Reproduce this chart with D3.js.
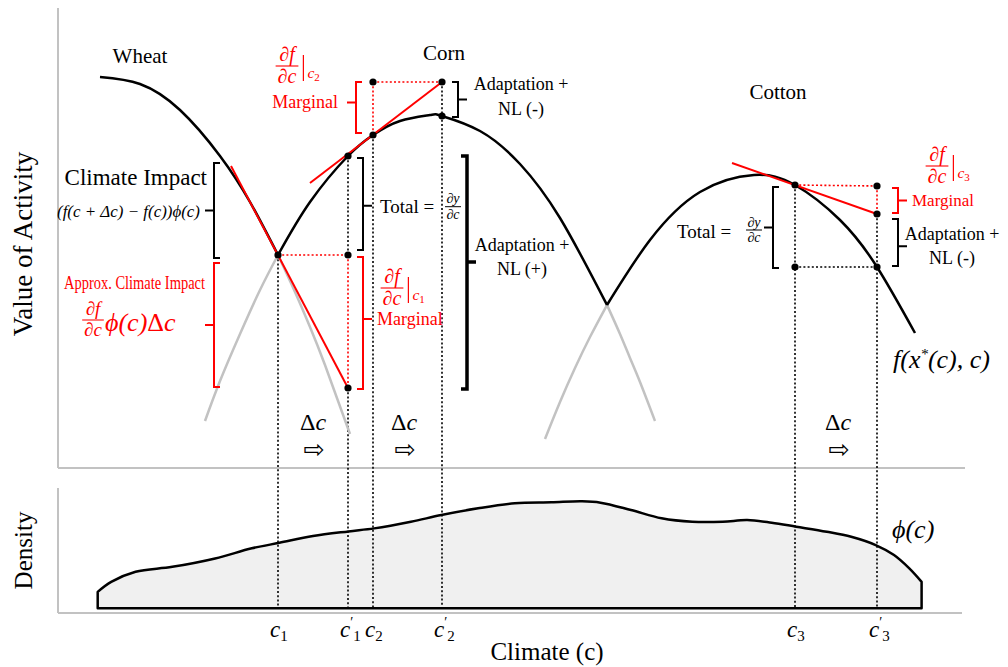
<!DOCTYPE html>
<meta charset="utf-8">
<title>Climate, adaptation and value of activity</title>
<style>
body { margin: 0; background: #fff; }
text { font-family: "Liberation Serif", "Times New Roman", serif; }
</style>
<body>
<script src="https://cdnjs.cloudflare.com/ajax/libs/d3/7.8.5/d3.min.js"></script>
<script>
var W = 1008, H = 667;
var RED = "#ff0000", GREY = "#c2c2c2";

// crop value curves, [climate c, value of activity]
var wheatBlack = [[4.2,39.1],[8.2,38.4],[12.2,35.8],[16.2,31.2],[19.2,26.6],[22.0,21.3]];
var wheatGrey = [[22.0,21.3],[23.7,17.6],[25.2,14.1],[26.7,10.3],[29.2,3.4]];
var cornGreyLeft = [[14.7,4.7],[16.2,8.7],[18.2,13.4],[20.2,17.8],[22.0,21.3]];
var cornBlack = [[22.0,21.3],[25.2,26.6],[29.0,31.2],[31.5,33.3],[34.2,34.7],[37.2,35.3],[38.4,35.2],[42.2,33.7],[46.2,30.4],[50.2,25.0],[54.9,16.3]];
var cornGreyRight = [[54.9,16.3],[56.2,13.4],[57.2,11.0],[58.2,8.6],[59.7,4.7]];
var cottonGrey = [[48.7,2.9],[50.2,6.6],[51.7,10.0],[53.2,13.1],[54.9,16.3]];
var cottonBlack = [[54.9,16.3],[59.2,22.8],[64.2,27.6],[69.6,29.3],[73.7,28.3],[78.2,24.8],[81.9,20.1],[85.7,13.5]];

// climate density phi(c), [c, density]
var density = [[3.97,0.136],[5.32,0.219],[7.76,0.303],[11.43,0.344],[15.71,0.414],[19.38,0.498],[22.14,0.544],[25.5,0.600],[29.05,0.639],[31.62,0.664],[35.29,0.719],[38.34,0.775],[42.01,0.831],[45.68,0.873],[49.35,0.881],[52.41,0.889],[54.25,0.878],[57.3,0.817],[60.36,0.748],[63.42,0.719],[66.48,0.719],[68.92,0.733],[71.37,0.711],[73.82,0.678],[76.88,0.636],[79.32,0.594],[81.77,0.525],[83.6,0.442],[85.13,0.331],[86.36,0.219]];

// climate points on the axis
var cTicks = [22.0, 29.0, 31.5, 38.4, 73.7, 81.9];
var cSubs = ["1", "1", "2", "2", "3", "3"];
var cPrime = [false, true, false, true, false, true];

// tangent (marginal) lines
var tangents = [[[17.3,30.2],[29.0,8.0]], [[25.2,28.5],[38.4,38.6]], [[67.4,30.5],[81.9,25.4]]];

var dots = [[22.0,21.3],[29.0,31.2],[31.5,33.3],[38.4,35.2],[29.0,21.3],[29.0,8.0],[31.5,38.6],[38.4,38.6],[73.7,28.3],[81.9,20.1],[81.9,28.2],[81.9,25.4],[73.7,20.1]];

// dotted guides: [c0, v0, c1, v1, red?]; v1 null = down to density baseline
var guides = [
  [22.0,21.3,22.0,null,0], [29.0,31.2,29.0,21.3,0], [29.0,21.3,29.0,8.0,1], [29.0,8.0,29.0,null,0],
  [31.5,38.6,31.5,33.3,1], [31.5,33.3,31.5,null,0], [38.4,38.6,38.4,null,0],
  [73.7,28.3,73.7,null,0], [81.9,28.2,81.9,25.4,1], [81.9,25.4,81.9,null,0],
  [22.0,21.3,29.0,21.3,1], [31.5,38.6,38.4,38.6,1], [73.7,28.3,81.9,28.2,1], [73.7,20.1,81.9,20.1,0]
];

// brackets: [c, vTop, vBottom, dir (1 "[" / -1 "]"), red?, heavy?, tick position]
var brackets = [
  [15.6,30.5,21.0,1,0,0,0.5], [15.6,20.5,8.1,1,1,0,0.5], [29.8,38.6,33.5,1,1,0,0.4], [40.0,38.6,35.1,-1,0,0,0.5],
  [30.5,31.0,21.8,-1,0,0,0.52], [30.5,21.1,7.9,-1,1,0,0.47], [40.9,31.2,7.9,-1,0,1,0.455],
  [71.5,28.1,20.0,1,0,0,0.5], [84.0,28.0,25.5,-1,1,0,0.5], [84.0,24.9,20.2,-1,0,0,0.58]
];

var x = d3.scaleLinear().domain([0, 90.7]).range([58, 965]);
var y = d3.scaleLinear().domain([0, 46]).range([468, 8]);
var yd = d3.scaleLinear().domain([-0.04, 1]).range([613, 488]);

var svg = d3.select("body").append("svg")
    .attr("width", W)
    .attr("height", H)
    .style("display", "block");
svg.append("rect").attr("width", W).attr("height", H).attr("fill", "#fff");

// axes
var ax = svg.append("g").attr("stroke", GREY).attr("stroke-width", 2);
ax.append("line").attr("x1", x(0)).attr("x2", x(0)).attr("y1", y(46)).attr("y2", y(0));
ax.append("line").attr("x1", x(0)).attr("x2", x(90.7)).attr("y1", y(0)).attr("y2", y(0));
ax.append("line").attr("x1", x(0)).attr("x2", x(0)).attr("y1", yd(1)).attr("y2", yd(-0.04));
ax.append("line").attr("x1", x(0)).attr("x2", x(90.4)).attr("y1", yd(-0.04)).attr("y2", yd(-0.04));

// density
var area = d3.area()
    .x(function(d) { return x(d[0]); })
    .y0(yd(0))
    .y1(function(d) { return yd(d[1]); })
    .curve(d3.curveCatmullRom);
svg.append("path").datum(density)
    .attr("d", area)
    .attr("fill", "#f0f0f0")
    .attr("stroke", "#000")
    .attr("stroke-width", 2.5)
    .attr("stroke-linejoin", "round");

// dotted guides
svg.selectAll(".guide").data(guides).enter().append("line")
    .attr("x1", function(d) { return x(d[0]); })
    .attr("y1", function(d) { return y(d[1]); })
    .attr("x2", function(d) { return x(d[2]); })
    .attr("y2", function(d) { return d[3] === null ? yd(0) : y(d[3]); })
    .attr("stroke", function(d) { return d[4] ? RED : "#000"; })
    .attr("stroke-width", 1.6)
    .attr("stroke-dasharray", "2,2.2");

// curves
var line = d3.line()
    .x(function(d) { return x(d[0]); })
    .y(function(d) { return y(d[1]); })
    .curve(d3.curveNatural);
[wheatGrey, cornGreyLeft, cornGreyRight, cottonGrey].forEach(function(s) {
  svg.append("path").datum(s).attr("d", line).attr("fill", "none")
      .attr("stroke", GREY).attr("stroke-width", 2.5);
});
[wheatBlack, cornBlack, cottonBlack].forEach(function(s) {
  svg.append("path").datum(s).attr("d", line).attr("fill", "none")
      .attr("stroke", "#000").attr("stroke-width", 2.5);
});

svg.selectAll(".tan").data(tangents).enter().append("path")
    .attr("d", d3.line().x(function(d) { return x(d[0]); }).y(function(d) { return y(d[1]); }))
    .attr("stroke", RED).attr("stroke-width", 2).attr("fill", "none");

svg.selectAll(".dot").data(dots).enter().append("circle")
    .attr("cx", function(d) { return x(d[0]); })
    .attr("cy", function(d) { return y(d[1]); })
    .attr("r", 3.6)
    .attr("fill", "#000");

// brackets
svg.selectAll(".br").data(brackets).enter().append("path")
    .attr("d", function(d) {
      var bx = x(d[0]), t = y(d[1]), b = y(d[2]), arm = 6 * d[3], tk = -9 * d[3], m = t + (b - t) * d[6];
      return "M" + (bx + arm) + "," + t + "H" + bx + "V" + b + "H" + (bx + arm) + "M" + bx + "," + m + "H" + (bx + tk);
    })
    .attr("fill", "none")
    .attr("stroke", function(d) { return d[4] ? RED : "#000"; })
    .attr("stroke-width", function(d) { return d[5] ? 3.5 : 2; });

// text helpers
function label(px, py, str, size, color, anchor, italic) {
  return svg.append("text").attr("x", px).attr("y", py)
      .attr("font-size", size).attr("fill", color || "#000")
      .attr("text-anchor", anchor || "start")
      .attr("font-style", italic ? "italic" : null)
      .text(str);
}
function frac(px, py, num, den, size, color) {
  var n = label(px, py - size * 0.25, num, size, color, "middle", true);
  var d = label(px, py + size * 0.86, den, size, color, "middle", true);
  var w = Math.max(n.node().getComputedTextLength(), d.node().getComputedTextLength()) + size * 0.2;
  svg.append("line").attr("x1", px - w / 2).attr("x2", px + w / 2).attr("y1", py).attr("y2", py)
      .attr("stroke", color).attr("stroke-width", Math.max(1, size / 18));
  return w;
}
function evalAt(px, py, sub, size) {
  var w = frac(px, py, "\u2202f", "\u2202c", size, RED);
  var bx = px + w / 2 + 5;
  svg.append("line").attr("x1", bx).attr("x2", bx).attr("y1", py - size * 0.55).attr("y2", py + size * 0.75)
      .attr("stroke", RED).attr("stroke-width", 1.2);
  var t = label(bx + 4, py + size * 0.62, "c", size * 0.78, RED, "start", true);
  t.append("tspan").attr("dy", size * 0.12).attr("font-size", size * 0.55).attr("font-style", "normal").text(sub);
}

// crop names
label(x(8.2), y(40.5), "Wheat", 21, "#000", "middle");
label(x(38.6), y(40.8), "Corn", 21, "#000", "middle");
label(x(72.0), y(36.9), "Cotton", 21, "#000", "middle");

// climate impact
label(x(14.9), y(28.3), "Climate Impact", 23, "#000", "end");
label(x(14.2), y(25.1), "(f(c + \u0394c) \u2212 f(c))\u03d5(c)", 17, "#000", "end", true)
    .attr("textLength", 143).attr("lengthAdjust", "spacingAndGlyphs");
label(x(7.65), y(17.9), "Approx. Climate Impact", 19, RED, "middle")
    .attr("textLength", 141).attr("lengthAdjust", "spacingAndGlyphs");
frac(x(3.5), y(14.8), "\u2202f", "\u2202c", 19, RED);
var ap = label(x(4.7), y(13.7), "\u03d5(c)", 26, RED, "start", true);
ap.append("tspan").attr("font-style", "normal").text("\u0394");
ap.append("tspan").text("c");

// corn marginal at c2
evalAt(x(22.9), y(40.2), "2", 20);
label(x(28.0), y(36.0), "Marginal", 18, RED, "end");
label(x(46.3), y(37.8), "Adaptation +", 18, "#000", "middle");
label(x(46.3), y(35.3), "NL (-)", 18, "#000", "middle");

// total at c1'
label(x(32.2), y(25.5), "Total =", 19, "#000", "start");
frac(x(39.5), y(26.13), "\u2202y", "\u2202c", 14, "#000");
evalAt(x(33.4), y(18.0), "1", 20);
label(x(31.9), y(14.3), "Marginal", 18, RED, "start");
label(x(46.4), y(21.7), "Adaptation +", 18, "#000", "middle");
label(x(46.4), y(19.3), "NL (+)", 18, "#000", "middle");

// cotton
evalAt(x(87.9), y(30.2), "3", 20);
label(x(85.4), y(26.2), "Marginal", 17, RED, "start");
label(x(61.9), y(23.0), "Total =", 19, "#000", "start");
frac(x(69.6), y(23.8), "\u2202y", "\u2202c", 14, "#000");
label(x(89.4), y(22.8), "Adaptation +", 18, "#000", "middle");
label(x(89.4), y(20.4), "NL (-)", 18, "#000", "middle");

var fx = label(x(83.5), y(10.0), "f(x", 26, "#000", "start", true);
fx.append("tspan").attr("dy", -9).attr("font-size", 15).text("*");
fx.append("tspan").attr("dy", 9).text("(c), c)");

// delta c arrows
[25.5, 34.6, 78.0].forEach(function(c) {
  var t = label(x(c), y(3.8), "\u0394", 24, "#000", "middle");
  t.append("tspan").attr("font-style", "italic").text("c");
  label(x(c) + 1, y(1.0), "\u21e8", 25, "#000", "middle").style("font-family", "DejaVu Sans");
});

// density label
label(x(83.4), yd(0.584), "\u03d5(c)", 26, "#000", "start", true);

// axis titles
label(x(0) - 26, (y(0) + y(46)) / 2 + 6, "Value of Activity", 27, "#000", "middle")
    .attr("transform", "rotate(-90," + (x(0) - 26) + "," + ((y(0) + y(46)) / 2 + 6) + ")");
label(x(0) - 26, (yd(-0.04) + yd(1)) / 2, "Density", 25, "#000", "middle")
    .attr("transform", "rotate(-90," + (x(0) - 26) + "," + ((yd(-0.04) + yd(1)) / 2) + ")");
label(x(48.9), 660, "Climate (c)", 25, "#000", "middle");

// c tick labels: c with subscript, prime above
cTicks.forEach(function(c, i) {
  var px = x(c) - 8, py = yd(-0.04) + 24;
  var t = label(px, py, "c", 23, "#000", "start", true);
  if (cPrime[i]) {
    t.append("tspan").attr("dy", -10).attr("font-size", 14).attr("font-style", "normal").text("\u2032");
    t.append("tspan").attr("dy", 14).attr("font-size", 15).attr("font-style", "normal").text(cSubs[i]);
  } else {
    t.append("tspan").attr("dy", 4).attr("font-size", 15).attr("font-style", "normal").text(cSubs[i]);
  }
});
</script>
